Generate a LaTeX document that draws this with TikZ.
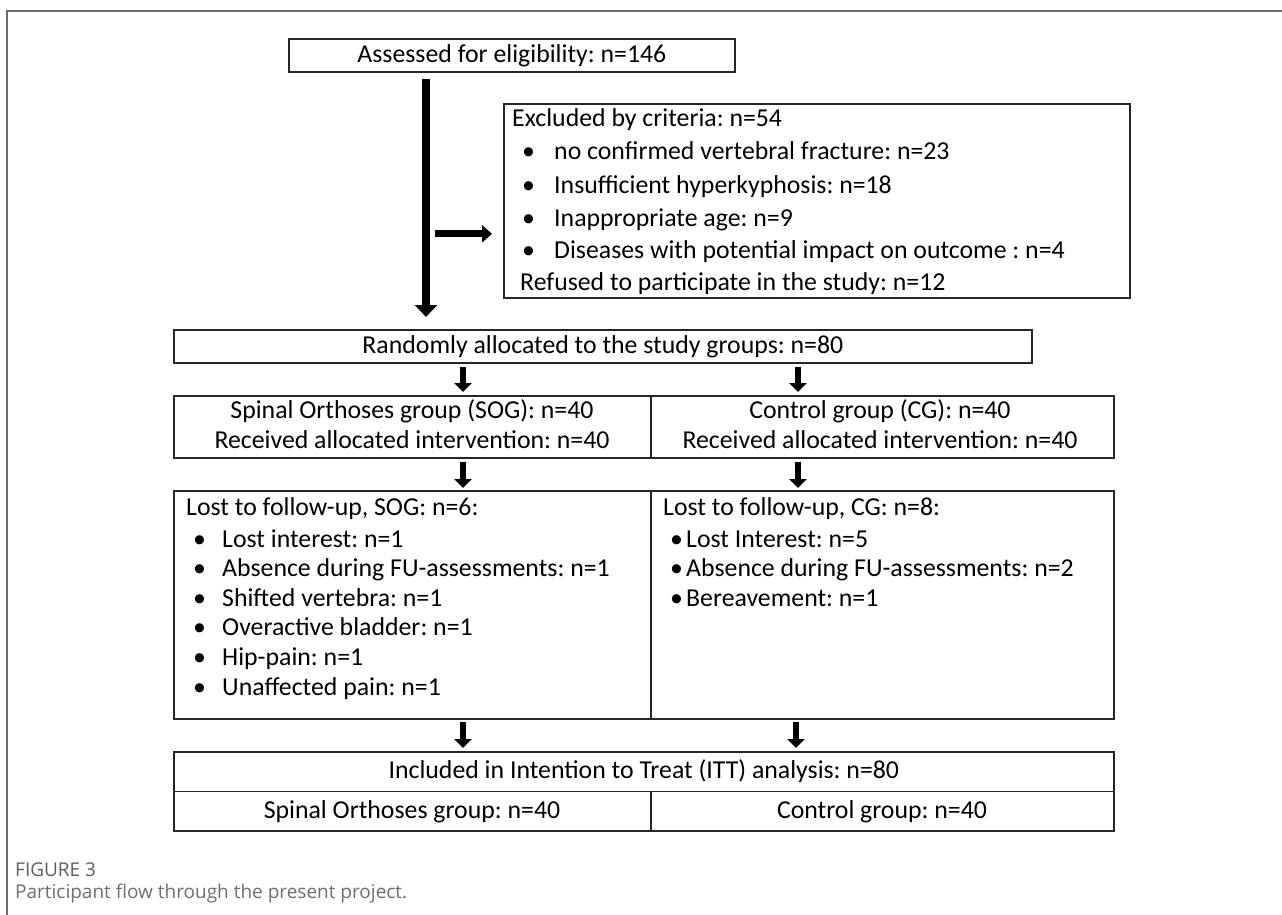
\documentclass[tikz,border=0pt]{standalone}
\usepackage{fontspec}
\setmainfont{Carlito}
\newfontfamily\capfont{Open Sans}
\usetikzlibrary{arrows.meta,calc}
\definecolor{framegray}{HTML}{6A6A6A}
\definecolor{capgray}{HTML}{6E6E6E}
\frenchspacing
\begin{document}
\begin{tikzpicture}[x=1pt,y=-1pt,
  box/.style={draw=black!85, line width=1.7pt, anchor=north west, inner sep=0pt},
  boxline/.style={draw=black!85, line width=1.2pt},
  txt/.style={inner sep=0pt, font=\fontsize{25.8}{30}\selectfont, text height=18pt, text depth=4pt},
  ltxt/.style={txt, anchor=west},
  bigarrow/.style={line width=8pt, -{Triangle[width=22pt,length=12pt]}},
  midarrow/.style={line width=7pt, -{Triangle[width=17pt,length=10pt]}},
  smallarrow/.style={line width=5.5pt, -{Triangle[width=17pt,length=9pt]}},
  framestyle/.style={draw=framegray, line width=1.4pt}
]
\fill[white] (0,0) rectangle (1282,915);
\useasboundingbox (0,0) rectangle (1282,915);

% outer frame
\coordinate (f0) at (7,11);
\coordinate (f1) at (1282,11);
\coordinate (f2) at (7,915);
\draw[framestyle] (f1) -- (f0) -- (f2);

% top box
\node[box, minimum width=446pt, minimum height=33pt] (A) at (288,38) {};
\node[txt] (At) at (A.center) {Assessed for eligibility: n=146};

% excluded box
\node[box, minimum width=626pt, minimum height=194pt] (E) at (503,103) {};
\node[ltxt] (E0) at (512,120) {Excluded by criteria: n=54};
\node[ltxt] (Eb1) at (522,153) {•};
\node[ltxt] (E1) at (554,153) {no confirmed vertebral fracture: n=23};
\node[ltxt] (Eb2) at (522,186) {•};
\node[ltxt] (E2) at (554,186) {Insufficient hyperkyphosis: n=18};
\node[ltxt] (Eb3) at (522,219) {•};
\node[ltxt] (E3) at (554,219) {Inappropriate age: n=9};
\node[ltxt] (Eb4) at (522,251) {•};
\node[ltxt] (E4) at (554,251) {Diseases with potential impact on outcome : n=4};
\node[ltxt] (E5) at (520,283) {Refused to participate in the study: n=12};

% randomly allocated
\node[box, minimum width=858pt, minimum height=33pt] (R) at (173,329) {};
\node[txt] (Rt) at (R.center) {Randomly allocated to the study groups: n=80};

% group box
\node[box, minimum width=940pt, minimum height=62pt] (S) at (173,395) {};
\draw[boxline] ($(S.north west)+(478,0)$) -- ($(S.south west)+(478,0)$);
\node[txt] (S1) at ($(S.north west)+(239,16)$) {Spinal Orthoses group (SOG): n=40};
\node[txt] (S2) at ($(S.north west)+(239,46)$) {Received allocated intervention: n=40};
\node[txt] (C1) at ($(S.north west)+(707,16)$) {Control group (CG): n=40};
\node[txt] (C2) at ($(S.north west)+(707,46)$) {Received allocated intervention: n=40};

% lost to follow-up box
\node[box, minimum width=940pt, minimum height=228pt] (L) at (173,490) {};
\draw[boxline] ($(L.north west)+(478,0)$) -- ($(L.south west)+(478,0)$);
\node[ltxt] (L0) at (186,508) {Lost to follow-up, SOG: n=6:};
\node[ltxt] (Lb1) at (193,540) {•};
\node[ltxt] (L1) at (222,540) {Lost interest: n=1};
\node[ltxt] (Lb2) at (193,569.6) {•};
\node[ltxt] (L2) at (222,569.6) {Absence during FU-assessments: n=1};
\node[ltxt] (Lb3) at (193,599.2) {•};
\node[ltxt] (L3) at (222,599.2) {Shifted vertebra: n=1};
\node[ltxt] (Lb4) at (193,628.8) {•};
\node[ltxt] (L4) at (222,628.8) {Overactive bladder: n=1};
\node[ltxt] (Lb5) at (193,658.4) {•};
\node[ltxt] (L5) at (222,658.4) {Hip-pain: n=1};
\node[ltxt] (Lb6) at (193,688) {•};
\node[ltxt] (L6) at (222,688) {Unaffected pain: n=1};
\node[ltxt] (M0) at (663,508) {Lost to follow-up, CG: n=8:};
\node[ltxt] (Mb1) at (670,540) {•};
\node[ltxt] (M1) at (686,540) {Lost Interest: n=5};
\node[ltxt] (Mb2) at (670,569.6) {•};
\node[ltxt] (M2) at (686,569.6) {Absence during FU-assessments: n=2};
\node[ltxt] (Mb3) at (670,599.2) {•};
\node[ltxt] (M3) at (686,599.2) {Bereavement: n=1};

% ITT box
\node[box, minimum width=940pt, minimum height=79pt] (I) at (173,751) {};
\draw[boxline] (I.west) -- (I.east);
\draw[boxline] ($(I.south west)+(478,0)$) -- ($(I.west)+(478,0)$);
\node[txt] (I0) at ($(I.north)+(0,20)$) {Included in Intention to Treat (ITT) analysis: n=80};
\node[txt] (I1) at ($(I.south west)+(239,-20)$) {Spinal Orthoses group: n=40};
\node[txt] (I2) at ($(I.south west)+(709,-20)$) {Control group: n=40};

% arrows
\draw[bigarrow] ($(A.south west)+(138,6)$) -- ($(A.south west |- R.north)+(138,-12)$);
\draw[midarrow] ($(E.west)+(-68,33)$) -- ($(E.west)+(-11,33)$);
\draw[smallarrow] ($(R.south west)+(290,3)$) -- ($(R.south west |- S.north)+(290,-3)$);
\draw[smallarrow] ($(R.south west)+(625,3)$) -- ($(R.south west |- S.north)+(625,-3)$);
\draw[smallarrow] ($(S.south west)+(290,3)$) -- ($(S.south west |- L.north)+(290,-2)$);
\draw[smallarrow] ($(S.south west)+(625,3)$) -- ($(S.south west |- L.north)+(625,-2)$);
\draw[smallarrow] ($(L.south west)+(290,2)$) -- ($(L.south west |- I.north)+(290,-3)$);
\draw[smallarrow] ($(L.south west)+(623,2)$) -- ($(L.south west |- I.north)+(623,-3)$);

% caption
\node[anchor=west, inner sep=0pt, font=\capfont\fontsize{19}{22}\selectfont, text=capgray!85!black] (fig) at (15,870) {FIGURE 3};
\node[anchor=west, inner sep=0pt, font=\capfont\fontsize{19}{22}\selectfont, text=capgray] (cap) at (15,894) {Participant flow through the present project.};
\end{tikzpicture}
\end{document}
